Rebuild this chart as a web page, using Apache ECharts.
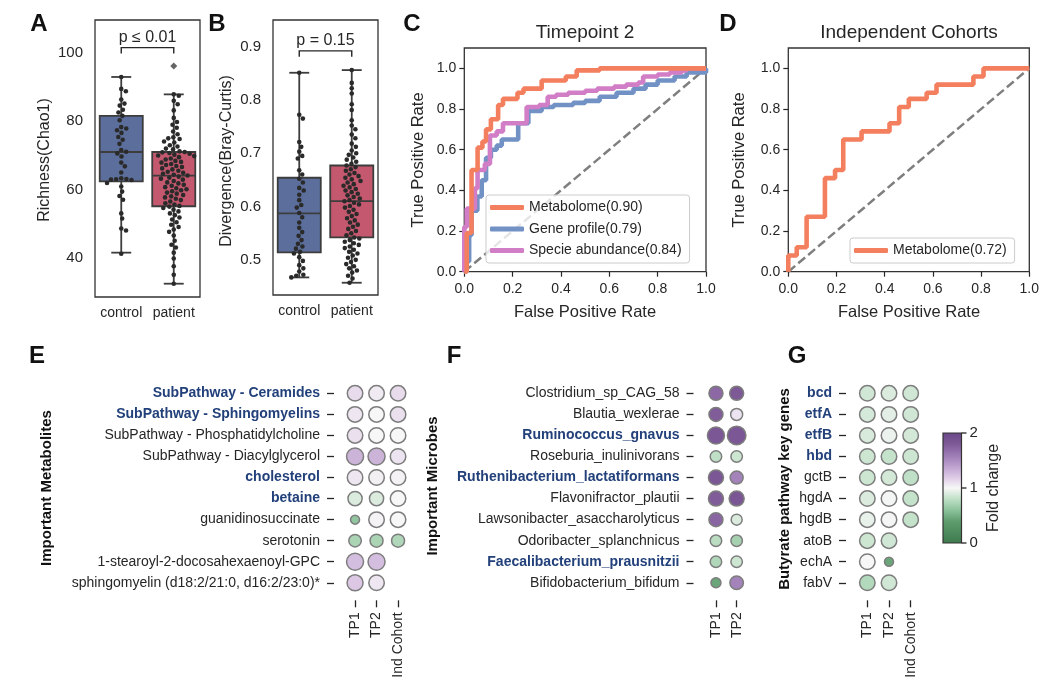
<!DOCTYPE html>
<html><head><meta charset="utf-8">
<script src="https://cdn.jsdelivr.net/npm/echarts@6/dist/echarts.min.js"></script>
<style>html,body{margin:0;padding:0;background:#fff}#c{width:1050px;height:687px}</style>
</head><body><div id="c"></div>
<script>
// ---------- DATA ----------
const groupsAB = ['control', 'patient'];
// [min, Q1, median, Q3, max]
const boxA = [[41.5, 62.4, 71.0, 81.6, 93.0], [32.4, 55.1, 64.1, 71.0, 87.9]];
const outlierA = [[1, 96.2]];
const swarmAControl = [93.0, 89.5, 88.8, 86.4, 85.2, 84.6, 83.4, 82.6, 81.6, 80.3, 78.3, 77.9, 77.4, 76.6, 75.4, 74.6, 73.4, 71.6, 71.1, 70.6, 69.7, 67.9, 66.8, 65.0, 63.3, 63.1, 63.0, 62.9, 62.8, 61.9, 60.9, 59.4, 58.1, 57.0, 53.0, 51.5, 48.6, 48.0, 41.2];
const swarmAPatient = [87.9, 87.5, 86.0, 85.0, 83.2, 81.0, 79.8, 79.0, 78.1, 77.0, 76.2, 75.3, 75.0, 74.8, 74.1, 73.8, 73.0, 72.6, 72.0, 71.8, 71.2, 71.0, 70.9, 70.7, 70.5, 70.2, 70.0, 69.8, 69.5, 69.1, 68.8, 68.4, 68.1, 67.9, 67.5, 67.2, 66.9, 66.6, 66.2, 65.9, 65.5, 65.2, 64.9, 64.6, 64.3, 64.1, 63.8, 63.5, 63.2, 62.9, 62.5, 62.1, 61.8, 61.4, 61.1, 60.7, 60.4, 60.1, 59.8, 59.5, 59.1, 58.8, 58.4, 58.0, 57.7, 57.3, 56.9, 56.5, 56.0, 55.6, 55.2, 55.0, 54.6, 54.1, 53.6, 53.0, 52.5, 51.8, 51.2, 50.4, 49.7, 49.0, 48.3, 47.6, 46.5, 45.0, 43.8, 43.0, 41.5, 39.8, 37.5, 35.0, 32.4];
const boxB = [[0.467, 0.514, 0.587, 0.654, 0.851], [0.457, 0.542, 0.610, 0.677, 0.856]];
const swarmBControl = [0.851, 0.772, 0.765, 0.721, 0.712, 0.703, 0.695, 0.690, 0.668, 0.660, 0.652, 0.645, 0.635, 0.630, 0.622, 0.612, 0.603, 0.598, 0.588, 0.580, 0.570, 0.560, 0.552, 0.545, 0.537, 0.530, 0.525, 0.521, 0.515, 0.512, 0.505, 0.498, 0.490, 0.484, 0.478, 0.472, 0.470, 0.467];
const swarmBPatient = [0.856, 0.832, 0.822, 0.812, 0.792, 0.781, 0.762, 0.752, 0.745, 0.735, 0.728, 0.718, 0.712, 0.705, 0.700, 0.697, 0.692, 0.688, 0.684, 0.680, 0.677, 0.674, 0.670, 0.667, 0.663, 0.660, 0.657, 0.654, 0.651, 0.648, 0.645, 0.642, 0.639, 0.636, 0.633, 0.630, 0.627, 0.624, 0.621, 0.618, 0.615, 0.612, 0.610, 0.607, 0.604, 0.601, 0.598, 0.594, 0.590, 0.586, 0.582, 0.578, 0.574, 0.570, 0.566, 0.562, 0.558, 0.554, 0.550, 0.546, 0.542, 0.540, 0.537, 0.534, 0.531, 0.528, 0.525, 0.522, 0.519, 0.515, 0.512, 0.508, 0.504, 0.500, 0.496, 0.492, 0.488, 0.484, 0.480, 0.476, 0.470, 0.465, 0.457];
const pValueA = 'p ≤ 0.01';
const pValueB = 'p = 0.15';

// ROC curves [FPR, TPR]
const rocMetabolomeTP2 = [[0,0],[0.01,0.19],[0.03,0.5],[0.055,0.61],[0.075,0.64],[0.09,0.7],[0.11,0.75],[0.14,0.82],[0.16,0.85],[0.22,0.88],[0.245,0.9],[0.32,0.94],[0.42,0.96],[0.465,0.99],[0.56,1.0],[1,1]];
const rocGeneTP2 = [[0,0],[0.01,0.05],[0.02,0.18],[0.03,0.3],[0.054,0.37],[0.072,0.45],[0.09,0.56],[0.11,0.6],[0.134,0.62],[0.155,0.65],[0.223,0.73],[0.265,0.79],[0.32,0.81],[0.37,0.82],[0.45,0.83],[0.5,0.84],[0.56,0.86],[0.63,0.88],[0.7,0.9],[0.75,0.92],[0.8,0.94],[0.87,0.96],[0.92,0.98],[1,1]];
const rocSpecieTP2 = [[0,0],[0,0.22],[0.01,0.31],[0.044,0.41],[0.055,0.5],[0.085,0.53],[0.106,0.67],[0.134,0.69],[0.16,0.73],[0.258,0.81],[0.31,0.82],[0.345,0.86],[0.38,0.87],[0.43,0.88],[0.5,0.89],[0.55,0.9],[0.62,0.91],[0.67,0.92],[0.72,0.93],[0.74,0.96],[0.8,0.97],[0.85,0.98],[0.9,0.99],[0.92,1.0],[1,1]];
const rocMetabolomeInd = [[0,0],[0,0.08],[0.035,0.12],[0.076,0.27],[0.152,0.46],[0.194,0.5],[0.228,0.65],[0.304,0.69],[0.42,0.73],[0.46,0.81],[0.5,0.85],[0.574,0.88],[0.615,0.92],[0.768,0.96],[0.81,1.0],[1,1]];
const rocNames = ['Metabolome(0.90)', 'Gene profile(0.79)', 'Specie abundance(0.84)'];
const rocNameInd = 'Metabolome(0.72)';
const rocTicks = [0, 0.2, 0.4, 0.6, 0.8, 1.0];

// Dot plots: fold change and significance score (circle size)
const cols3 = ['TP1', 'TP2', 'Ind Cohort'];
const cols2 = ['TP1', 'TP2'];
const metabolites = ['SubPathway - Ceramides', 'SubPathway - Sphingomyelins', 'SubPathway - Phosphatidylcholine', 'SubPathway - Diacylglycerol', 'cholesterol', 'betaine', 'guanidinosuccinate', 'serotonin', '1-stearoyl-2-docosahexaenoyl-GPC', 'sphingomyelin (d18:2/21:0, d16:2/23:0)*'];
const metabolitesBold = ['SubPathway - Ceramides', 'SubPathway - Sphingomyelins', 'cholesterol', 'betaine'];
const metaboliteFC = [[1.12,1.05,1.12],[1.07,1.0,1.1],[1.1,1.0,1.0],[1.3,1.3,1.08],[1.07,1.03,1.02],[0.9,0.9,1.0],[0.62,1.02,1.0],[0.72,0.72,0.74],[1.25,1.25,null],[1.2,1.07,null]];
const metaboliteSig = [[0.75,0.75,0.75],[0.75,0.75,0.75],[0.75,0.75,0.75],[0.9,0.9,0.75],[0.75,0.75,0.75],[0.62,0.62,0.75],[0.1,0.75,0.75],[0.45,0.5,0.5],[0.9,0.9,null],[0.8,0.75,null]];
const microbes = ['Clostridium_sp_CAG_58', 'Blautia_wexlerae', 'Ruminococcus_gnavus', 'Roseburia_inulinivorans', 'Ruthenibacterium_lactatiformans', 'Flavonifractor_plautii', 'Lawsonibacter_asaccharolyticus', 'Odoribacter_splanchnicus', 'Faecalibacterium_prausnitzii', 'Bifidobacterium_bifidum'];
const microbesBold = ['Ruminococcus_gnavus', 'Ruthenibacterium_lactatiformans', 'Faecalibacterium_prausnitzii'];
const microbeFC = [[1.7,1.8],[1.78,1.08],[1.82,1.82],[0.8,0.85],[1.82,1.55],[1.78,1.83],[1.72,0.9],[0.78,0.7],[0.74,0.85],[0.45,1.55]];
const microbeSig = [[0.6,0.6],[0.6,0.4],[0.9,1.05],[0.35,0.35],[0.7,0.5],[0.7,0.7],[0.6,0.3],[0.35,0.35],[0.35,0.35],[0.2,0.55]];
const genes = ['bcd', 'etfA', 'etfB', 'hbd', 'gctB', 'hgdA', 'hgdB', 'atoB', 'echA', 'fabV'];
const genesBold = ['bcd', 'etfA', 'etfB', 'hbd'];
const geneFC = [[0.86,0.9,0.86],[0.88,0.93,0.86],[0.89,0.96,0.87],[0.85,0.82,0.85],[0.85,0.87,0.8],[0.9,0.99,0.82],[0.95,0.99,0.82],[0.85,0.86,null],[1.0,0.45,null],[0.75,0.86,null]];
const geneSig = [[0.75,0.75,0.75],[0.75,0.75,0.75],[0.75,0.75,0.75],[0.75,0.75,0.75],[0.75,0.75,0.75],[0.75,0.75,0.75],[0.75,0.75,0.75],[0.75,0.75,null],[0.75,0.1,null],[0.75,0.75,null]];
const colorbarTicks = [0, 1, 2];

// ---------- STYLE / HELPERS ----------
const FONT = 'Liberation Sans, Arial, Helvetica, sans-serif';
const INK = '#262626';
const CMAP = ['#3e7a4e','#4d8a5d','#5e9c6d','#8cc29b','#bfe0c6','#f7f7f7','#dcc8e5','#bb9fcd','#9b79b3','#7d5996','#6a4788'];
const BOLD_BLUE = '#22407a';

function boxSeries(xi, stats, fills) {
  return {
    type: 'custom', xAxisIndex: xi, yAxisIndex: xi, z: 2,
    data: stats.map((s, i) => [i].concat(s)),
    encode: { x: 0, y: [1, 2, 3, 4, 5] },
    renderItem: (params, api) => {
      const ci = api.value(0);
      const p = k => api.coord([ci, api.value(k)]);
      const cx = p(3)[0];
      const band = api.size([1, 0])[0];
      const bw = band * 0.82, cw = band * 0.38;
      const yMin = p(1)[1], yQ1 = p(2)[1], yMed = p(3)[1], yQ3 = p(4)[1], yMax = p(5)[1];
      const ls = { stroke: '#3d3d3d', lineWidth: 1.8, fill: null };
      return { type: 'group', children: [
        { type: 'line', shape: { x1: cx, y1: yMin, x2: cx, y2: yQ1 }, style: ls },
        { type: 'line', shape: { x1: cx, y1: yQ3, x2: cx, y2: yMax }, style: ls },
        { type: 'line', shape: { x1: cx - cw / 2, y1: yMin, x2: cx + cw / 2, y2: yMin }, style: ls },
        { type: 'line', shape: { x1: cx - cw / 2, y1: yMax, x2: cx + cw / 2, y2: yMax }, style: ls },
        { type: 'rect', shape: { x: cx - bw / 2, y: yQ3, width: bw, height: yQ1 - yQ3 }, style: { fill: fills[ci], stroke: '#3d3d3d', lineWidth: 1.8 } },
        { type: 'line', shape: { x1: cx - bw / 2, y1: yMed, x2: cx + bw / 2, y2: yMed }, style: ls }
      ]};
    }
  };
}

function swarmSeries(xi, groups) {
  const flat = [];
  groups.forEach((g, ci) => g.forEach(v => flat.push([ci, v])));
  let cache = null;
  const d = 5.2;
  return {
    type: 'custom', xAxisIndex: xi, yAxisIndex: xi, z: 4, data: flat,
    encode: { x: 0, y: 1 },
    renderItem: (params, api) => {
      if (!cache) {
        cache = flat.map(([ci, v]) => { const c = api.coord([ci, v]); return { x: c[0], y: c[1], ci: ci, off: 0 }; });
        groups.forEach((g, ci) => {
          const pts = cache.filter(p => p.ci === ci).sort((a, b) => a.y - b.y);
          const placed = [];
          pts.forEach(p => {
            const cands = [0];
            placed.forEach(q => {
              const dy = p.y - q.y;
              if (Math.abs(dy) < d) { const dx = Math.sqrt(d * d - dy * dy); cands.push(q.off + dx, q.off - dx); }
            });
            cands.sort((a, b) => Math.abs(a) - Math.abs(b));
            for (const c of cands) {
              let ok = true;
              for (const q of placed) {
                const dy = p.y - q.y, dx = c - q.off;
                if (dx * dx + dy * dy < d * d - 0.01) { ok = false; break; }
              }
              if (ok) { p.off = c; break; }
            }
            placed.push(p);
          });
        });
      }
      const p = cache[params.dataIndex];
      return { type: 'circle', shape: { cx: p.x + p.off, cy: p.y, r: 2.3 }, style: { fill: '#2a2a2a' } };
    }
  };
}

function bracketSeries(xi, text, yBar, yTip, yText) {
  return {
    type: 'custom', xAxisIndex: xi, yAxisIndex: xi, z: 5, data: [[0, yBar]],
    encode: { x: 0, y: 1 },
    renderItem: (params, api) => {
      const a = api.coord([0, yBar]), b = api.coord([1, yBar]);
      const ta = api.coord([0, yTip]), tt = api.coord([0, yText]);
      const mid = (a[0] + b[0]) / 2;
      return { type: 'group', children: [
        { type: 'polyline', shape: { points: [[a[0], ta[1]], a, b, [b[0], ta[1]]] }, style: { stroke: INK, lineWidth: 1.4, fill: null } },
        { type: 'text', x: mid, y: tt[1], style: { text: text, fontSize: 16, fontFamily: FONT, fill: INK, align: 'center', verticalAlign: 'middle' } }
      ]};
    }
  };
}

function dotData(fc, sig) {
  const out = [];
  fc.forEach((row, r) => row.forEach((v, c) => { if (v !== null) out.push([c, r, v, sig[r][c]]); }));
  return out;
}
function dotSeries(xi, fc, sig) {
  return {
    type: 'scatter', xAxisIndex: xi, yAxisIndex: xi, data: dotData(fc, sig),
    symbolSize: v => 8 + 10 * v[3],
    itemStyle: { borderColor: '#7d7d7d', borderWidth: 1.5, opacity: 1 },
    emphasis: { disabled: true }
  };
}

function richFormatter(bold) {
  return v => bold.indexOf(v) >= 0 ? '{b|' + v + '}' : v;
}

function dotAxes(gi, cols, rows, bold, yOffset) {
  return {
    x: { gridIndex: gi, type: 'category', data: cols, offset: 7,
      axisLine: { show: false }, splitLine: { show: false },
      axisTick: { show: true, alignWithLabel: true, length: 7, lineStyle: { color: INK, width: 1.3 } },
      axisLabel: { rotate: 90, margin: 12, fontSize: 14, color: INK, interval: 0, fontFamily: FONT } },
    y: { gridIndex: gi, type: 'category', data: rows, inverse: true, offset: yOffset,
      axisLine: { show: false }, splitLine: { show: false },
      axisTick: { show: true, alignWithLabel: true, length: 7, lineStyle: { color: INK, width: 1.3 } },
      axisLabel: { interval: 0, margin: 14, fontSize: 14, color: INK, fontFamily: FONT,
        formatter: richFormatter(bold),
        rich: { b: { fontWeight: 'bold', color: BOLD_BLUE, fontSize: 14, fontFamily: FONT } } } }
  };
}

function rocAxes(gi) {
  const lab = { fontSize: 14, color: INK, fontFamily: FONT, formatter: v => v.toFixed(1), customValues: rocTicks };
  const tick = { show: true, length: 5, lineStyle: { color: INK, width: 1.2 }, customValues: rocTicks };
  return {
    x: { gridIndex: gi, type: 'value', min: 0, max: 1, axisLine: { show: false }, splitLine: { show: false },
      axisTick: tick, axisLabel: Object.assign({ margin: 10 }, lab) },
    y: { gridIndex: gi, type: 'value', min: 0, max: 1.1, axisLine: { show: false }, splitLine: { show: false },
      axisTick: tick, axisLabel: Object.assign({ margin: 8 }, lab) }
  };
}

const gridFrame = { show: true, borderColor: '#333', borderWidth: 1.3, backgroundColor: 'transparent', containLabel: false, outerBoundsMode: 'none' };
const gridPlain = { show: false, containLabel: false, outerBoundsMode: 'none' };

const eAx = dotAxes(4, cols3, metabolites, metabolitesBold, 10.3);
const fAx = dotAxes(5, cols2, microbes, microbesBold, 12.1);
const gAx = dotAxes(6, cols3, genes, genesBold, 10.5);
const cAx = rocAxes(2), dAx = rocAxes(3);

const abLabel = { fontSize: 14, color: INK, margin: 9, interval: 0, fontFamily: FONT };

function rocLine(xi, name, data, color, z) {
  return { type: 'line', name: name, xAxisIndex: xi, yAxisIndex: xi, data: data, step: 'end',
    showSymbol: false, symbol: 'none', color: color, z: z,
    lineStyle: { color: color, width: 4.6 }, emphasis: { disabled: true } };
}
function diagLine(xi) {
  return { type: 'line', xAxisIndex: xi, yAxisIndex: xi, data: [[0, 0], [1, 1]], showSymbol: false, symbol: 'none', z: 1,
    color: '#7f7f7f', lineStyle: { color: '#7f7f7f', width: 2.5, type: [9, 4] }, emphasis: { disabled: true } };
}

const ORANGE = '#f47f5e', BLUE = '#7292c6', PINK = '#d27ec6';

function txt(x, y, text, size, opts) {
  return Object.assign({ type: 'text', x: x, y: y, z: 100,
    style: Object.assign({ text: text, fontSize: size, fontFamily: FONT, fill: INK, align: 'center', verticalAlign: 'middle' }, (opts && opts.style) || {}) },
    opts && opts.rotation ? { rotation: opts.rotation } : {});
}
const R90 = { rotation: Math.PI / 2 };
const LETTER = { style: { fontWeight: 'bold', fill: '#111' } };

const cbX = 943, cbY = 433, cbW = 18.5, cbH = 110;
const graphics = [
  txt(39, 24, 'A', 24, LETTER),
  txt(217, 24, 'B', 24, LETTER),
  txt(412, 24, 'C', 24, LETTER),
  txt(728, 24, 'D', 24, LETTER),
  txt(37, 356, 'E', 24, LETTER),
  txt(454, 356, 'F', 24, LETTER),
  txt(797, 356, 'G', 24, LETTER),
  txt(45, 160, 'Richness(Chao1)', 16, R90),
  txt(227, 161, 'Divergence(Bray-Curtis)', 16, R90),
  txt(585, 33, 'Timepoint 2', 19),
  txt(909, 33, 'Independent Cohorts', 19),
  txt(585, 312, 'False Positive Rate', 16.5),
  txt(909, 312, 'False Positive Rate', 16.5),
  txt(418, 160, 'True Positive Rate', 16.5, R90),
  txt(739, 160, 'True Positive Rate', 16.5, R90),
  txt(47, 488, 'Important Metabolites', 15, { rotation: Math.PI / 2, style: { fontWeight: 'bold', fill: '#111' } }),
  txt(433, 486, 'Important Microbes', 15, { rotation: Math.PI / 2, style: { fontWeight: 'bold', fill: '#111' } }),
  txt(785, 489, 'Butyrate pathway key genes', 15, { rotation: Math.PI / 2, style: { fontWeight: 'bold', fill: '#111' } }),
  txt(994, 488, 'Fold change', 16, R90),
  { type: 'rect', z: 100, shape: { x: cbX, y: cbY, width: cbW, height: cbH },
    style: { stroke: '#333', lineWidth: 1.2,
      fill: { type: 'linear', x: 0, y: 1, x2: 0, y2: 0, colorStops: CMAP.map((c, i) => ({ offset: i / (CMAP.length - 1), color: c })) } } }
];
colorbarTicks.forEach(t => {
  const y = cbY + cbH - (t / 2) * cbH;
  graphics.push({ type: 'line', z: 100, shape: { x1: cbX + cbW, y1: y, x2: cbX + cbW + 5, y2: y }, style: { stroke: INK, lineWidth: 1.3 } });
  graphics.push(txt(cbX + cbW + 8, y, String(t), 15, { style: { align: 'left' } }));
});

const series = [
  boxSeries(0, boxA, ['#5c6f9c', '#c4586f']),
  swarmSeries(0, [swarmAControl, swarmAPatient]),
  { type: 'scatter', xAxisIndex: 0, yAxisIndex: 0, data: outlierA, symbol: 'diamond', symbolSize: 7, z: 4,
    itemStyle: { color: '#3d3d3d' }, emphasis: { disabled: true } },
  bracketSeries(0, pValueA, 101.6, 99.9, 104.6),
  boxSeries(1, boxB, ['#5c6f9c', '#c4586f']),
  swarmSeries(1, [swarmBControl, swarmBPatient]),
  bracketSeries(1, pValueB, 0.892, 0.881, 0.912),
  diagLine(2),
  rocLine(2, rocNames[1], rocGeneTP2, BLUE, 3),
  rocLine(2, rocNames[2], rocSpecieTP2, PINK, 4),
  rocLine(2, rocNames[0], rocMetabolomeTP2, ORANGE, 5),
  diagLine(3),
  rocLine(3, rocNameInd, rocMetabolomeInd, ORANGE, 5),
  dotSeries(4, metaboliteFC, metaboliteSig),
  dotSeries(5, microbeFC, microbeSig),
  dotSeries(6, geneFC, geneSig)
];

const legendBase = { orient: 'vertical', icon: 'roundRect', itemWidth: 34, itemHeight: 5, itemGap: 4.5,
  padding: [4, 8, 4, 4], backgroundColor: 'rgba(255,255,255,0.8)', borderColor: '#cccccc', borderWidth: 1, borderRadius: 3,
  selectedMode: false, textStyle: { fontSize: 14, color: INK, fontFamily: FONT, lineHeight: 17 } };

const option = {
  animation: false,
  backgroundColor: '#fff',
  textStyle: { fontFamily: FONT, color: INK },
  grid: [
    Object.assign({ left: 95, top: 20, width: 105, height: 277 }, gridFrame),
    Object.assign({ left: 273, top: 20, width: 105, height: 275 }, gridFrame),
    Object.assign({ left: 464.3, top: 48, width: 241.7, height: 223.7 }, gridFrame),
    Object.assign({ left: 788.3, top: 48, width: 241, height: 223.7 }, gridFrame),
    Object.assign({ left: 344.3, top: 382.8, width: 64.5, height: 210.5 }, gridPlain),
    Object.assign({ left: 705.6, top: 382.8, width: 41.4, height: 210.5 }, gridPlain),
    Object.assign({ left: 856.5, top: 382.8, width: 65, height: 210.5 }, gridPlain)
  ],
  xAxis: [
    { gridIndex: 0, type: 'category', data: groupsAB, axisLine: { show: false }, axisTick: { show: false }, axisLabel: abLabel },
    { gridIndex: 1, type: 'category', data: groupsAB, axisLine: { show: false }, axisTick: { show: false }, axisLabel: abLabel },
    cAx.x, dAx.x, eAx.x, fAx.x, gAx.x
  ],
  yAxis: [
    { gridIndex: 0, type: 'value', min: 28.5, max: 109.7, axisLine: { show: false }, axisTick: { show: false }, splitLine: { show: false },
      axisLabel: { fontSize: 15, color: INK, margin: 12, fontFamily: FONT, customValues: [40, 60, 80, 100] } },
    { gridIndex: 1, type: 'value', min: 0.434, max: 0.95, axisLine: { show: false }, axisTick: { show: false }, splitLine: { show: false },
      axisLabel: { fontSize: 15, color: INK, margin: 12, fontFamily: FONT, customValues: [0.5, 0.6, 0.7, 0.8, 0.9], formatter: v => v.toFixed(1) } },
    cAx.y, dAx.y, eAx.y, fAx.y, gAx.y
  ],
  legend: [
    Object.assign({ left: 486, top: 195, data: rocNames }, legendBase),
    Object.assign({ left: 850, top: 238, data: [rocNameInd] }, legendBase)
  ],
  visualMap: { type: 'continuous', show: false, min: 0, max: 2, dimension: 2, seriesIndex: [13, 14, 15], inRange: { color: CMAP } },
  graphic: graphics,
  series: series
};

const chart = echarts.init(document.getElementById('c'), null, { renderer: 'canvas' });
chart.setOption(option);
</script></body></html>
